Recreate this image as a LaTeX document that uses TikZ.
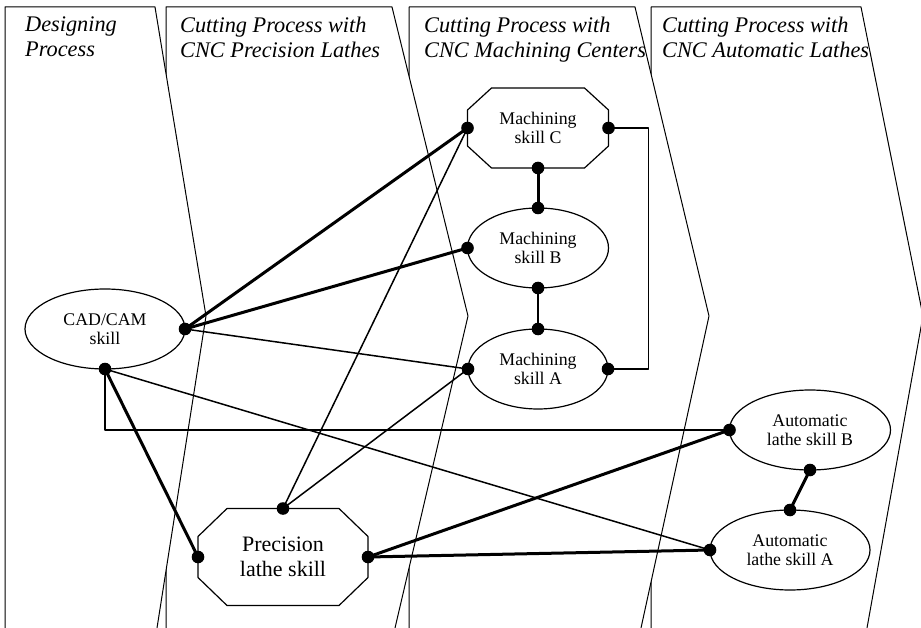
\documentclass[tikz,border=0pt]{standalone}
\usepackage{fontspec}
\setmainfont{Liberation Serif}
\usetikzlibrary{shapes.geometric}

\begin{document}
\begin{tikzpicture}[x=1pt, y=-1pt, line join=round, line cap=round,
    lane/.style={line width=1pt},
    head/.style={anchor=north west, inner sep=0pt, align=left, font=\fontsize{22.3}{24.5}\selectfont\itshape},
    skill/.style={ellipse, draw, line width=1.2pt, fill=white, inner sep=0pt, outer sep=0pt,
      align=center, minimum width=160pt, minimum height=80pt, font=\fontsize{17.8}{19.5}\selectfont},
    octa/.style={rectangle, inner sep=0pt, outer sep=0pt, align=center,
      minimum width=141pt, minimum height=80pt, font=\fontsize{17.8}{19.5}\selectfont},
    border/.style={line width=1.2pt},
    link/.style={line width=1.5pt},
    strong/.style={line width=3pt},
    dot/.style={fill=black}]

  \useasboundingbox (0,0) rectangle (921,628);

  % lanes, right one first so each lane covers the next
  \foreach \l/\r/\t/\b in {651/861/923/867, 409/635/709/641, 166/392/468/395, 5/155/206/157} {
    \fill[white] (\l,7) -- (\r,7) -- (\t,316) -- (\b,628) -- (\l,628) -- cycle;
    \draw[lane] (\l,628) -- (\l,7) -- (\r,7) -- (\t,316) -- (\b,628);
  }

  \node[head] (h1) at (25,17) {Designing\\Process};
  \node[head] (h2) at (180,17) {Cutting Process with\\CNC Precision Lathes};
  \node[head] (h3) at (424,17) {Cutting Process with\\CNC Machining Centers};
  \node[head] (h4) at (662,17) {Cutting Process with\\CNC Automatic Lathes};

  \node[skill] (cad) at (105,329) {CAD/CAM\\skill};
  \node[octa] (mC) at (538,128) {Machining\\skill C};
  \node[skill, minimum width=141pt] (mB) at (538,248) {Machining\\skill B};
  \node[skill, minimum width=140pt] (mA) at (538,369) {Machining\\skill A};
  \node[skill, minimum width=161pt] (autoB) at (810,430) {Automatic\\lathe skill B};
  \node[skill] (autoA) at (790,550) {Automatic\\lathe skill A};
  \node[octa, minimum width=170pt, minimum height=97pt,
    font=\fontsize{22}{25}\selectfont] (prec) at (283,557) {Precision\\lathe skill};

  % cut corners of the two octagons
  \foreach \n/\cx/\cy in {mC/24/22, prec/29/28}
    \draw[border] ([xshift=\cx pt]\n.north west) -- ([xshift=-\cx pt]\n.north east)
      -- ([yshift=-\cy pt]\n.north east) -- ([yshift=\cy pt]\n.south east)
      -- ([xshift=-\cx pt]\n.south east) -- ([xshift=\cx pt]\n.south west)
      -- ([yshift=\cy pt]\n.south west) -- ([yshift=-\cy pt]\n.north west) -- cycle;

  \draw[strong] (cad.east) -- (mC.west);
  \draw[strong] (cad.east) -- (mB.west);
  \draw[link] (cad.east) -- (mA.west);
  \draw[strong] (cad.south) -- (prec.west);
  \draw[link] (cad.south) -- (autoA.west);
  \draw[link] (cad.south) |- (autoB.west);
  \draw[link] (prec.north) -- (mC.west);
  \draw[link] (prec.north) -- (mA.west);
  \draw[strong] (prec.east) -- (autoB.west);
  \draw[strong] (prec.east) -- (autoA.west);
  \draw[strong] (mC.south) -- (mB.north);
  \draw[link] (mB.south) -- (mA.north);
  \draw[link] (mC.east) -- ([xshift=40pt]mC.east) |- (mA.east);
  \draw[strong] (autoB.south) -- (autoA.north);

  \foreach \p in {cad.east, cad.south, mC.west, mC.east, mC.south, mB.north, mB.west, mB.south,
      mA.north, mA.west, mA.east, autoB.west, autoB.south, autoA.north, autoA.west,
      prec.north, prec.west, prec.east}
    \fill[dot] (\p) circle [radius=6.3pt];
\end{tikzpicture}
\end{document}
